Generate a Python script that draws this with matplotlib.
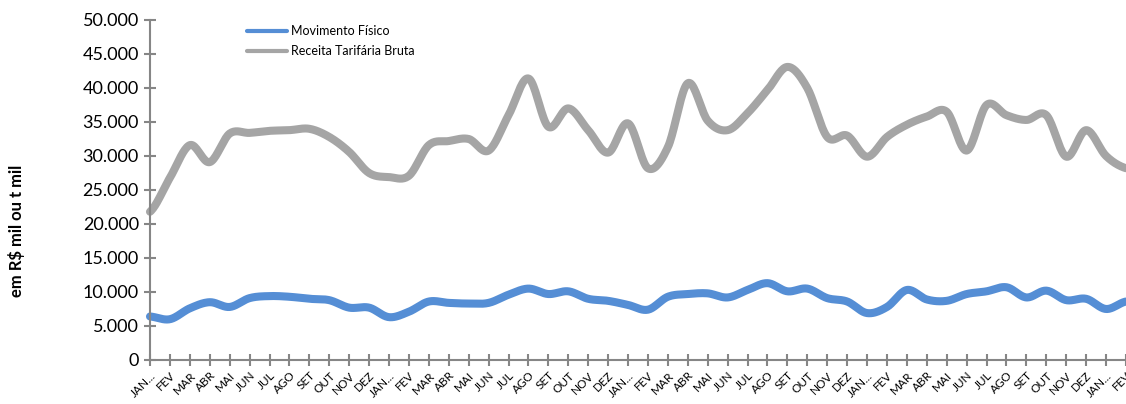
import numpy as np
import matplotlib.pyplot as plt
import matplotlib.transforms as mtransforms
from matplotlib.ticker import FuncFormatter, MultipleLocator

plt.rcParams['font.family'] = ['Lato', 'DejaVu Sans']

meses = ["JAN...", "FEV", "MAR", "ABR", "MAI", "JUN", "JUL", "AGO",
         "SET", "OUT", "NOV", "DEZ"]
rotulos = meses * 4 + ["JAN...", "FEV"]

# valores em mil
movimento = [6.4, 6.0, 7.6, 8.5, 7.8, 9.1, 9.4, 9.3, 9.0, 8.8,
             7.7, 7.7, 6.3, 7.1, 8.6, 8.4, 8.3, 8.4, 9.6, 10.5,
             9.7, 10.1, 9.0, 8.7, 8.1, 7.4, 9.3, 9.7, 9.8, 9.2,
             10.3, 11.3, 10.1, 10.5, 9.1, 8.6, 6.9, 7.8, 10.3, 8.9,
             8.7, 9.7, 10.1, 10.7, 9.2, 10.2, 8.8, 9.0, 7.5, 8.6]
receita = [21.8, 26.8, 31.6, 29.1, 33.3, 33.4, 33.7, 33.8, 34.0, 32.8,
           30.6, 27.5, 26.9, 27.1, 31.6, 32.2, 32.5, 30.8, 36.0, 41.4,
           34.3, 37.0, 33.8, 30.5, 34.8, 28.2, 31.3, 40.7, 35.2, 33.8,
           36.3, 39.7, 43.1, 40.0, 32.8, 33.0, 29.9, 32.8, 34.6, 35.8,
           36.5, 30.8, 37.5, 36.0, 35.3, 36.0, 29.9, 33.8, 30.0, 28.2]


def suavizar(y, passos=20):
    # curva suavizada estilo Excel (Catmull-Rom)
    y = np.asarray(y, dtype=float) * 1000
    p = np.concatenate([[y[0]], y, [y[-1]]])
    xs, ys = [], []
    for i in range(len(y) - 1):
        p0, p1, p2, p3 = p[i], p[i + 1], p[i + 2], p[i + 3]
        t = np.linspace(0, 1, passos, endpoint=False)
        yy = 0.5 * ((2 * p1) + (-p0 + p2) * t
                    + (2 * p0 - 5 * p1 + 4 * p2 - p3) * t ** 2
                    + (-p0 + 3 * p1 - 3 * p2 + p3) * t ** 3)
        xs.extend(i + t)
        ys.extend(yy)
    xs.append(len(y) - 1)
    ys.append(y[-1])
    return np.array(xs), np.array(ys)


fig = plt.figure(figsize=(11.26, 4.04), dpi=100)
ax = fig.add_axes([150 / 1126, 44 / 404, 976 / 1126, 340 / 404])

x1, y1 = suavizar(movimento)
x2, y2 = suavizar(receita)
ax.plot(x1, y1, color='#558ED5', lw=5.8, solid_capstyle='round',
        label='Movimento Físico', clip_on=False)
ax.plot(x2, y2, color='#A5A5A5', lw=5.8, solid_capstyle='round',
        label='Receita Tarifária Bruta', clip_on=False)

ax.set_xlim(0, len(rotulos) - 1)
ax.set_ylim(0, 50000)
ax.yaxis.set_major_locator(MultipleLocator(5000))
ax.yaxis.set_major_formatter(FuncFormatter(
    lambda v, p: '0' if v == 0 else f'{int(v):,}'.replace(',', '.')))
ax.set_xticks(range(len(rotulos)))
ax.set_xticklabels(rotulos, rotation=45, ha='right', rotation_mode='anchor',
                   fontsize=8.5)
offset = mtransforms.ScaledTranslation(7 / 100, -2 / 100, fig.dpi_scale_trans)
for lab in ax.get_xticklabels():
    lab.set_transform(lab.get_transform() + offset)

for s in ['top', 'right']:
    ax.spines[s].set_visible(False)
for s in ['left', 'bottom']:
    ax.spines[s].set_color('#868686')
    ax.spines[s].set_linewidth(1.5)
ax.tick_params(axis='both', direction='inout', length=8, width=1.5,
               color='#868686')
ax.tick_params(axis='y', labelsize=13, pad=4)
ax.tick_params(axis='x', pad=3)

fig.text(17 / 1126, 1 - 231 / 404, 'em R$ mil ou t mil', rotation=90,
         fontsize=12, fontweight='bold', ha='center', va='center')

leg = ax.legend(loc='upper left', bbox_to_anchor=(236 / 1126, 1 - 14 / 404),
                bbox_transform=fig.transFigure, frameon=False, fontsize=9,
                handlelength=3.2, handletextpad=0.3, labelspacing=0.65)
for h in leg.get_lines():
    h.set_linewidth(3)

fig.savefig('out.png', dpi=100)
